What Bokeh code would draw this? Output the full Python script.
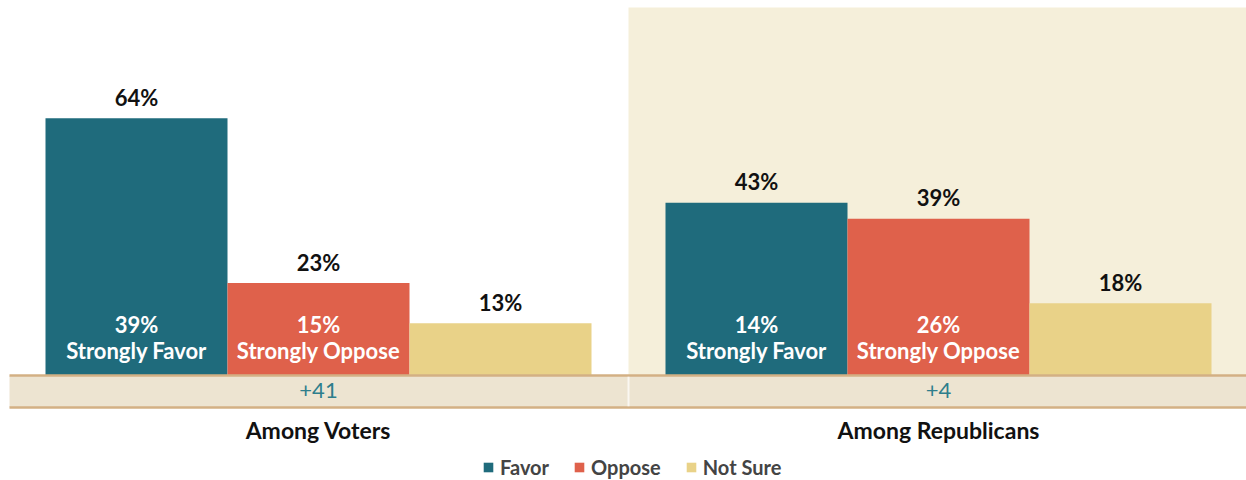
from bokeh.plotting import figure
from bokeh.models import Range1d, ColumnDataSource, Legend, LegendItem
from bokeh.core.properties import value
from bokeh.embed import file_html
from bokeh.resources import INLINE

# ---------------- data ----------------
groups = ["Among Voters", "Among Republicans"]
series = ["Favor", "Oppose", "Not Sure"]
favor = [64, 43]
oppose = [23, 39]
not_sure = [13, 18]
strongly_favor = [39, 14]
strongly_oppose = [15, 26]
net = ["+41", "+4"]
colors = ["#1F6B7C", "#DF614B", "#E9D288"]

# ---------------- layout ----------------
W, H = 1246, 480
BAR_PX = 182.0
PX_PER_PCT = 4.02
BASE_PX = 375          # baseline distance from figure top
LEFT_PX = 45           # left edge of first bar
GAP = 74 / BAR_PX
x0 = -LEFT_PX / BAR_PX
x1 = (W - LEFT_PX) / BAR_PX
y0 = -(H - BASE_PX) / PX_PER_PCT
y1 = BASE_PX / PX_PER_PCT
band_bottom = -32 / PX_PER_PCT
panel_top = (BASE_PX - 7) / PX_PER_PCT
band_left = x0 + 9 / BAR_PX

FONT = value("Lato")

p = figure(width=W, height=H, x_range=Range1d(x0, x1), y_range=Range1d(y0, y1),
           output_backend="svg", toolbar_location=None, min_border=0,
           min_border_left=0, min_border_right=0, min_border_top=0, min_border_bottom=0)
p.axis.visible = False
p.xgrid.visible = False
p.ygrid.visible = False
p.outline_line_color = None
p.background_fill_color = "white"
p.border_fill_color = "white"

g_start = [i * (3 + GAP) for i in range(len(groups))]
g_center = [g + 1.5 for g in g_start]

# shaded panel behind the Republicans group
panel_left = g_start[1] - GAP / 2
p.quad(left=[panel_left], right=[x1], bottom=[band_bottom], top=[panel_top],
       fill_color="#F5EFDA", line_color=None)

# net band
p.quad(left=[band_left], right=[x1], bottom=[band_bottom], top=[0],
       fill_color="#EDE4D1", line_color=None)

# bars
values = [favor, oppose, not_sure]
renderers = []
for k, (name, vals, col) in enumerate(zip(series, values, colors)):
    src = ColumnDataSource(dict(
        x=[g + k + 0.5 for g in g_start],
        top=vals,
        label=[f"{v}%" for v in vals],
    ))
    r = p.vbar(x="x", top="top", bottom=0, width=1.0, source=src,
               fill_color=col, line_color=None)
    renderers.append(r)
    p.text(x="x", y="top", text="label", source=src, text_align="center",
           text_baseline="alphabetic", y_offset=-21, text_font=FONT,
           text_font_style="bold", text_font_size="22px", text_color="#111111")

# band lines
p.segment(x0=[band_left] * 2, x1=[x1] * 2, y0=[0, band_bottom], y1=[0, band_bottom],
          line_color="#D3B084", line_width=2.5)
p.segment(x0=[panel_left], x1=[panel_left], y0=[-0.3], y1=[band_bottom + 0.3],
          line_color="white", line_alpha=0.7, line_width=2)

# inner labels
inner = [(0, strongly_favor, "Strongly Favor"), (1, strongly_oppose, "Strongly Oppose")]
for k, vals, txt in inner:
    src = ColumnDataSource(dict(
        x=[g + k + 0.5 for g in g_start],
        y=[0] * len(vals),
        pct=[f"{v}%" for v in vals],
        txt=[txt] * len(vals),
    ))
    p.text(x="x", y="y", text="pct", source=src, text_align="center",
           text_baseline="alphabetic", y_offset=-51, text_font=FONT,
           text_font_style="bold", text_font_size="22px", text_color="white")
    p.text(x="x", y="y", text="txt", source=src, text_align="center",
           text_baseline="alphabetic", y_offset=-25, text_font=FONT,
           text_font_style="bold", text_font_size="22px", text_color="white")

# net values and group labels
gsrc = ColumnDataSource(dict(x=g_center, y=[0] * len(groups), net=net, name=groups))
p.text(x="x", y="y", text="net", source=gsrc, text_align="center",
       text_baseline="alphabetic", y_offset=15, text_font=FONT,
       text_font_size="22px", text_color="#2E7E8C")
p.text(x="x", y="y", text="name", source=gsrc, text_align="center",
       text_baseline="alphabetic", y_offset=54, text_font=FONT,
       text_font_style="bold", text_font_size="23px", text_color="#111111")

legend = Legend(items=[LegendItem(label=s, renderers=[r]) for s, r in zip(series, renderers)],
                orientation="horizontal", location=(482, 1),
                glyph_width=12, glyph_height=12, label_standoff=6, spacing=24,
                label_text_font="Lato", label_text_font_style="bold",
                label_text_font_size="20px", label_height=18,
                padding=0, margin=0, border_line_color=None,
                background_fill_alpha=0)
p.add_layout(legend)

open("out.html", "w").write(file_html(p, INLINE))
